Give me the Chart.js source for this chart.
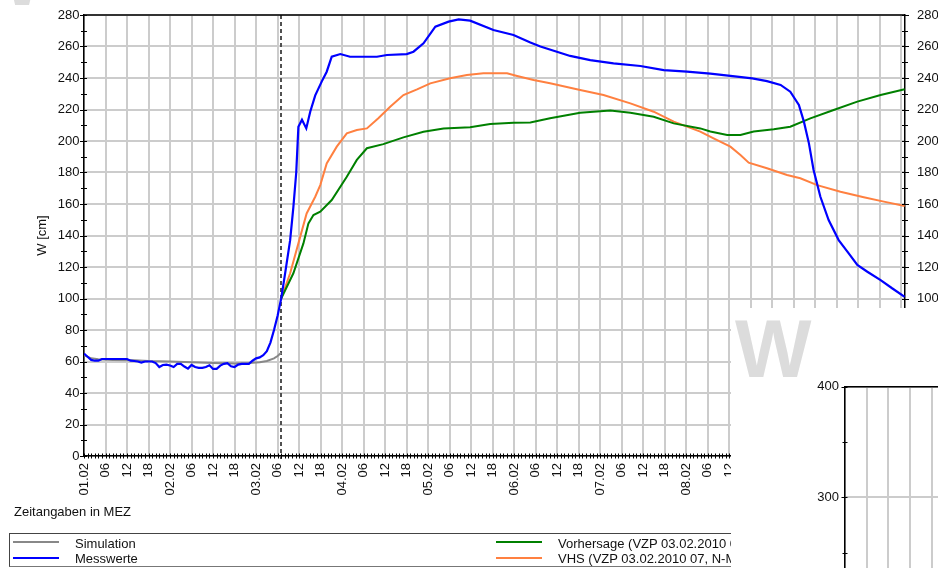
<!DOCTYPE html>
<html>
<head>
<meta charset="utf-8">
<title>Pegel W [cm]</title>
<script src="https://cdn.jsdelivr.net/npm/chart.js@4.4.1/dist/chart.umd.min.js"></script>
<style>
  body { margin: 0; background: #fff; }
  #wrap { position: relative; width: 938px; height: 568px; overflow: hidden;
          font-family: "Liberation Sans", Arial, sans-serif; font-size: 13px; color: #111; }
  #main { position: absolute; left: 0; top: 0; }
  .txt { position: absolute; line-height: 15px; white-space: nowrap; }
  .mark { position: absolute; height: 2px; }
  .wm { position: absolute; font-family: "Liberation Sans", Arial, sans-serif; font-weight: bold;
        font-size: 81px; line-height: 81px; color: #dcdcdc; }
  #legendBox { position: absolute; left: 9px; top: 533px; width: 800px; height: 32px;
               border-top: 1px solid #444; border-left: 1px solid #444; border-bottom: 1px solid #777; }
  #panel { position: absolute; left: 731px; top: 308px; width: 207px; height: 260px;
           background: #fff; overflow: hidden; }
  #sub { position: absolute; left: 0; top: 0; }
</style>
</head>
<body>
<div id="wrap">
  <div class="wm" style="left:-33px;top:-63px">W</div>
  <canvas id="main" width="938" height="568"></canvas>
  <div class="txt" style="left:14px;top:503.5px">Zeitangaben in MEZ</div>
  <div id="legendBox"></div>
  <div id="legend"></div>
  <div id="panel">
    <div class="wm" style="left:4px;top:1px">W</div>
    <canvas id="sub" width="207" height="560"></canvas>
  </div>
</div>
<script>
// Time axis: hours since 01.02.2010 00:00 (MEZ)
const timeRange = [0, 229];
const levelRange = [0, 280];
const forecastStart = 55;            // VZP 03.02.2010 07:00

// Simulation (grey)
const simHours  = [0, 2, 4, 8, 14, 18, 24, 30, 36, 42, 46, 49, 51, 53, 54, 55];
const simLevels = [64, 62, 61.5, 61, 60.8, 60.3, 60, 59.5, 59, 58.7, 59, 59.5, 60.3, 62, 63.5, 65.5];

// Messwerte (blue)
const messHours = [
  0, 1, 2, 3, 4, 5, 6, 7, 8, 9, 10, 11, 12, 13, 14, 15, 16, 17, 18, 19, 20,
  21, 22, 23, 24, 25, 26, 27, 28, 29, 30, 31, 32, 33, 34, 35, 36, 37, 38, 39, 40,
  41, 42, 43, 44, 45, 46, 47, 48, 49, 50, 51, 52, 53, 54, 55,
  56.1, 57.5, 58.4, 59.2, 59.8, 60.8, 62, 63.1, 64.5, 66.3, 67.7, 69.1, 71.5, 74.2,
  81.7, 84.5, 90, 91.9, 94.7, 98, 101.7, 104.5, 107.7, 114.2, 119.8, 124.5, 127.3,
  131.9, 135.6, 141.2, 147.7, 155.2, 161.7, 168.2, 174.7, 180.3, 186.4, 190.5, 194.3,
  197, 199.4, 200.8, 202.2, 203.5, 205.4, 207.7, 210.5, 213.3, 215.7, 218.5, 222.2,
  225.4, 228.9
];
const messLevels = [
  65, 63, 61, 60.5, 60.5, 61.6, 61.6, 61.6, 61.6, 61.6, 61.6, 61.6, 61.6, 60.5, 60.3, 60, 59.3, 60, 60, 60, 59,
  56.5, 57.8, 58, 57.5, 56.5, 58.5, 58.5, 56.8, 55.5, 57.8, 56.5, 56, 56, 56.5, 57.6, 55.3, 55.3, 57.4, 58.5, 59,
  57, 56.5, 58, 58.5, 58.5, 58.5, 60.5, 62, 62.6, 64, 66.5, 72, 80, 89, 100,
  116, 137, 158, 180, 209, 213.5, 208, 218.6, 229, 237.7, 244, 253.5, 255.2, 253.5,
  253.5, 254.6, 255.2, 256.7, 262, 272.6, 275.8, 277.2, 276.4, 270.5, 267.3, 262.5, 260,
  256.7, 254, 251.4, 249.3, 247.6, 245, 244, 242.8, 241.3, 239.8, 238, 235.6,
  231.3, 222.9, 212.3, 198.5, 181.6, 164.6, 149.8, 137.1, 128.7, 121.3, 117, 111.7,
  106.5, 101.1
];

// Vorhersage (green)
const vorHours  = [55, 58.4, 61.2, 62.6, 64, 65.9, 69.1, 73.3, 76.1, 78.9, 83.5, 89.1, 94.7, 100.3,
                   107.7, 113.3, 119.8, 124.5, 130, 138.4, 146.8, 152.4, 158.9, 164.5, 171.9, 174.7,
                   179.4, 183.1, 186.8, 192.4, 197, 202.6, 209.1, 215.7, 222.2, 228.9];
const vorLevels = [100, 116, 135, 147.7, 153, 155.1, 162.5, 177.3, 188, 195.4, 198, 202.3, 205.9, 208,
                   208.7, 210.8, 211.6, 211.8, 214.4, 218, 219.3, 218, 215.4, 211.2, 208, 206,
                   203.8, 203.8, 206, 207.4, 209.1, 214.4, 219.7, 225, 229.2, 232.8];

// VHS (orange)
const vhsHours  = [55, 57.5, 59.8, 62.1, 64.5, 65.9, 67.7, 70.5, 73.3, 76.1, 78.9, 82.1, 85.4, 89.1,
                   92.9, 96.6, 102.1, 106.8, 111.4, 118, 120.8, 125.4, 130, 138.4, 144.9, 152.4,
                   158.9, 164.5, 171.9, 175.6, 180.3, 183.1, 185.4, 190.5, 196.1, 199.8, 204.5,
                   211, 217.5, 223.1, 228.9];
const vhsLevels = [100, 116, 135, 154, 164.6, 172, 185.8, 196.4, 204.9, 207, 208, 214.4, 221.8, 229.2,
                   232.8, 236.6, 239.8, 241.9, 243, 243, 241.3, 238.7, 236.6, 232.4, 229.2, 223.9,
                   218.6, 212.3, 206, 201.7, 196.4, 191.1, 186.2, 182.7, 178.4, 176.3, 172,
                   167.8, 164.3, 161.5, 158.7];

// Second diagram: level axis only
const subLevelRange = [0, 400];
const subTimeRange = [0, 25.8];

const GRID = '#cccccc';
const FONT = { family: '"Liberation Sans", Arial, sans-serif', size: 13 };

function points(xs, ys) { return xs.map((x, i) => ({ x: x, y: ys[i] })); }

function timeLabel(h) {
  const hh = h % 24;
  if (hh === 0) return String(1 + h / 24).padStart(2, '0') + '.02';
  return String(hh).padStart(2, '0');
}

// Fixed axis widths; vertical label overhang kept small so the plot keeps its top edge
function fixWidth(w) {
  return s => { s.width = w; s.paddingTop = 6; s.paddingBottom = 6; };
}

// Frame, tick marks crossing the axes and the dashed forecast line
const framePlugin = {
  id: 'frame',
  beforeDatasetsDraw(chart, args, opts) {
    if (opts.markerAt == null) return;
    const { ctx, chartArea: a, scales: { x } } = chart;
    const px = Math.round(x.getPixelForValue(opts.markerAt));
    ctx.save();
    ctx.strokeStyle = '#505050';
    ctx.lineWidth = 2;
    ctx.setLineDash([4, 3]);
    ctx.beginPath();
    ctx.moveTo(px, a.top);
    ctx.lineTo(px, a.bottom + 3);
    ctx.stroke();
    ctx.restore();
  },
  afterDraw(chart, args, opts) {
    const { ctx, chartArea: a } = chart;
    ctx.save();
    ctx.strokeStyle = '#000';
    ctx.lineWidth = 1.5;
    ctx.beginPath();
    ctx.moveTo(a.left, a.top);
    ctx.lineTo(a.right, a.top);
    ctx.stroke();
    ctx.lineWidth = 1;
    (opts.ticks || []).forEach(t => {
      const s = chart.scales[t.scale];
      for (let v = s.min; v <= s.max + 1e-9; v += t.step) {
        const p = Math.round(s.getPixelForValue(v)) + 0.5;
        const major = t.major && Math.abs(v % t.major) < 1e-9;
        const outer = major ? t.outer + 1 : t.outer;
        ctx.beginPath();
        if (s.isHorizontal()) {
          ctx.moveTo(p, s.top - t.inner);
          ctx.lineTo(p, s.top + outer);
        } else if (s.position === 'left') {
          ctx.moveTo(s.right - outer, p);
          ctx.lineTo(s.right + t.inner, p);
        } else {
          ctx.moveTo(s.left - t.inner, p);
          ctx.lineTo(s.left + outer, p);
        }
        ctx.stroke();
      }
    });
    ctx.restore();
  }
};

const mainChart = new Chart(document.getElementById('main'), {
  type: 'line',
  data: {
    datasets: [
      { label: 'Simulation', data: points(simHours, simLevels), borderColor: '#888888', order: 1 },
      { label: 'Messwerte', data: points(messHours, messLevels), borderColor: '#0000ff', borderWidth: 2.2, order: 0 },
      { label: 'Vorhersage (VZP 03.02.2010 07)', data: points(vorHours, vorLevels), borderColor: '#008000', order: 2 },
      { label: 'VHS (VZP 03.02.2010 07, N-M)', data: points(vhsHours, vhsLevels), borderColor: '#ff8040', order: 3 }
    ]
  },
  options: {
    responsive: false,
    animation: false,
    events: [],
    datasets: { line: { borderWidth: 2, pointRadius: 0, tension: 0, fill: false } },
    layout: { padding: { top: 15, left: 0, right: 0, bottom: 0 } },
    plugins: {
      legend: { display: false },
      tooltip: { enabled: false },
      frame: {
        markerAt: forecastStart,
        ticks: [
          { scale: 'x', step: 1, inner: 2.5, outer: 2.5 },
          { scale: 'y', step: 10, inner: 3, outer: 3, major: 20 },
          { scale: 'y2', step: 10, inner: 3, outer: 3, major: 20 }
        ]
      }
    },
    scales: {
      x: {
        type: 'linear', min: timeRange[0], max: timeRange[1],
        grid: { color: GRID, lineWidth: 2, drawTicks: false },
        border: { color: '#000', width: 1.5 },
        ticks: {
          stepSize: 6, autoSkip: false, includeBounds: false,
          maxRotation: 90, minRotation: 90, padding: 7,
          color: '#111', font: FONT,
          callback: v => timeLabel(v)
        },
        afterFit: s => { s.height = 112; }
      },
      y: {
        position: 'left', min: levelRange[0], max: levelRange[1],
        grid: { color: GRID, lineWidth: 2, drawTicks: false },
        border: { color: '#000', width: 1.5 },
        ticks: { stepSize: 20, padding: 4.5, color: '#111', font: FONT },
        title: { display: true, text: 'W [cm]', color: '#111', font: FONT, padding: { top: 34.7, bottom: 0 } },
        afterFit: fixWidth(84)
      },
      y2: {
        position: 'right', min: levelRange[0], max: levelRange[1],
        grid: { display: false, drawTicks: false },
        border: { color: '#000', width: 1.5 },
        ticks: { stepSize: 20, padding: 12, color: '#111', font: FONT },
        afterFit: fixWidth(33)
      }
    }
  },
  plugins: [framePlugin]
});

// Legend built from the datasets
(function buildLegend() {
  const slots = [
    { line: 13, text: 75, row: 0 }, { line: 13, text: 75, row: 1 },
    { line: 496, text: 558, row: 0 }, { line: 496, text: 558, row: 1 }
  ];
  const rowLine = [541, 556.5];
  const rowText = [535.6, 550.6];
  const host = document.getElementById('legend');
  mainChart.data.datasets.forEach((ds, i) => {
    const s = slots[i];
    const m = document.createElement('div');
    m.className = 'mark';
    m.style.left = s.line + 'px';
    m.style.top = rowLine[s.row] + 'px';
    m.style.width = '46px';
    m.style.background = ds.borderColor;
    host.appendChild(m);
    const t = document.createElement('div');
    t.className = 'txt';
    t.style.left = s.text + 'px';
    t.style.top = rowText[s.row] + 'px';
    t.textContent = ds.label;
    host.appendChild(t);
  });
})();

// Second diagram (partly visible)
new Chart(document.getElementById('sub'), {
  type: 'line',
  data: { datasets: [] },
  options: {
    responsive: false,
    animation: false,
    events: [],
    layout: { padding: { top: 78.7, left: 0, right: 0, bottom: 0 } },
    plugins: {
      legend: { display: false },
      tooltip: { enabled: false },
      frame: { ticks: [{ scale: 'y', step: 50, inner: 2.5, outer: 2.5, major: 100 }] }
    },
    scales: {
      x: {
        type: 'linear', min: subTimeRange[0], max: subTimeRange[1],
        grid: { color: GRID, lineWidth: 2, drawTicks: false },
        border: { display: false },
        ticks: { display: false, stepSize: 6, includeBounds: false },
        afterFit: s => { s.height = 38.5; }
      },
      y: {
        position: 'left', min: subLevelRange[0], max: subLevelRange[1],
        grid: { color: GRID, lineWidth: 2, drawTicks: false },
        border: { color: '#000', width: 1.5 },
        ticks: { stepSize: 100, padding: 6, color: '#111', font: FONT },
        afterFit: fixWidth(114)
      }
    }
  },
  plugins: [framePlugin]
});
</script>
</body>
</html>
